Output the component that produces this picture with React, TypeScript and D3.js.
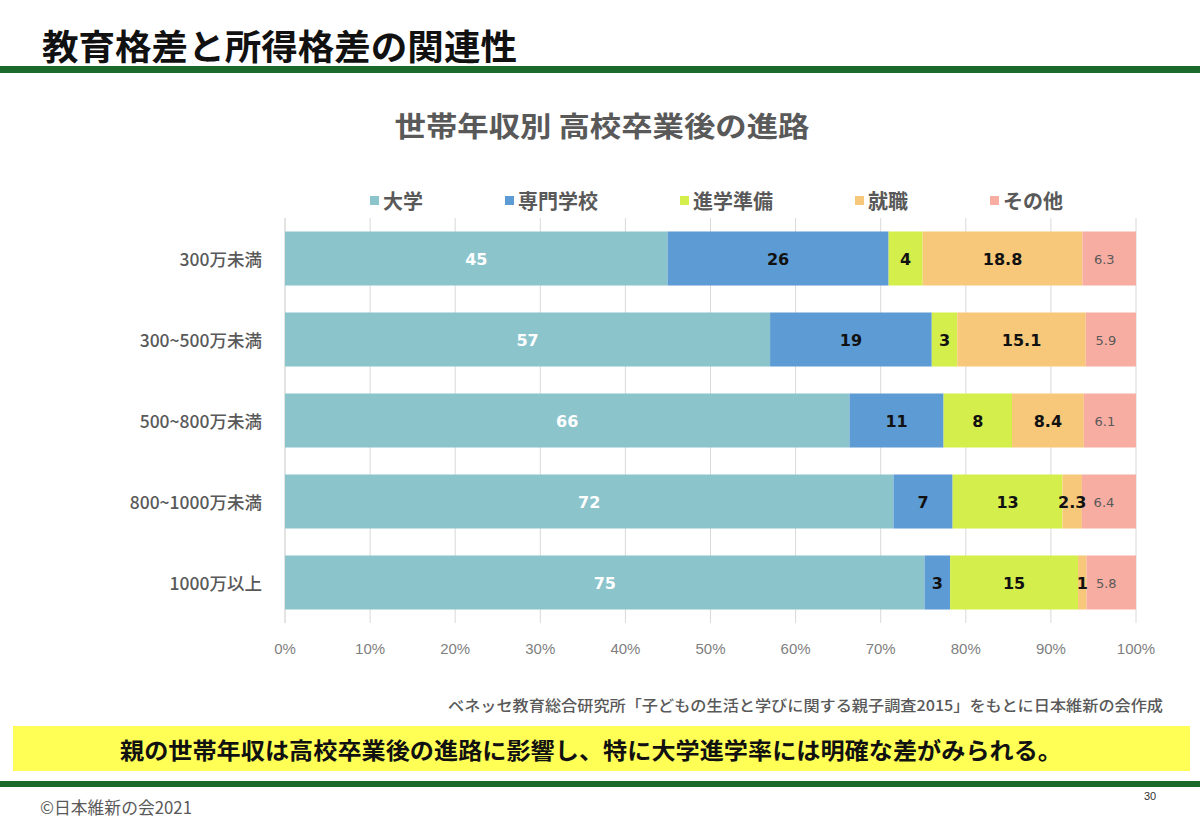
import React from "react";
import * as d3 from "d3";

const categories = ["300万未満", "300~500万未満", "500~800万未満", "800~1000万未満", "1000万以上"];
const seriesNames = ["大学", "専門学校", "進学準備", "就職", "その他"];
const daigaku = [45, 57, 66, 72, 75];
const senmon = [26, 19, 11, 7, 3];
const junbi = [4, 3, 8, 13, 15];
const shushoku = [18.8, 15.1, 8.4, 2.3, 1];
const sonota = [6.3, 5.9, 6.1, 6.4, 5.8];
const xTicks = [0, 0.1, 0.2, 0.3, 0.4, 0.5, 0.6, 0.7, 0.8, 0.9, 1];

const colors = ["#8cc4cc", "#5d9bd4", "#d4ef4c", "#f8c87a", "#f8ada2"];
const JP = "'Noto Sans CJK JP', 'Noto Sans', sans-serif";
const NUM = "'DejaVu Sans', Verdana, sans-serif";

export default function App() {
  const W = 1200, H = 831;
  const seriesValues = [daigaku, senmon, junbi, shushoku, sonota];
  const rows = categories.map((c, i) => {
    const r: any = { cat: c };
    seriesNames.forEach((s, j) => (r[s] = seriesValues[j][i]));
    return r;
  });
  const stack = d3.stack<any>().keys(seriesNames).offset(d3.stackOffsetExpand);
  const stacked = stack(rows);

  const x = d3.scaleLinear().domain([0, 1]).range([285, 1136]);
  const y = d3.scaleBand().domain(categories).range([218, 623]).paddingInner(0.333).paddingOuter(0.1665);

  const legendFont = 20;
  const legendItems: { name: string; x: number; color: string }[] = [];
  let lx = 370;
  seriesNames.forEach((s, i) => {
    legendItems.push({ name: s, x: lx, color: colors[i] });
    lx += 13 + s.length * legendFont + 82;
  });

  return (
    <svg width={W} height={H} style={{ display: "block", position: "absolute", left: 0, top: 0 }}>
      <rect x={0} y={0} width={W} height={H} fill="#ffffff" />
      <text x={42} y={44} fontFamily={JP} fontWeight={700} fontSize={35} fill="#111" dominantBaseline="central" textLength={475} lengthAdjust="spacingAndGlyphs">
        教育格差と所得格差の関連性
      </text>
      <rect x={0} y={66} width={W} height={7} fill="#1b6a2b" />

      <text x={602} y={125} textAnchor="middle" dominantBaseline="central" fontFamily={JP} fontWeight={700} fontSize={28} fill="#595959" textLength={415} lengthAdjust="spacingAndGlyphs">
        世帯年収別 高校卒業後の進路
      </text>

      {legendItems.map((l) => (
        <g key={l.name}>
          <rect x={l.x} y={196} width={9} height={9} fill={l.color} />
          <text x={l.x + 13} y={200} dominantBaseline="central" fontFamily={JP} fontWeight={700} fontSize={legendFont} fill="#595959">
            {l.name}
          </text>
        </g>
      ))}

      {xTicks.map((t) => (
        <line key={t} x1={x(t)} x2={x(t)} y1={218} y2={623} stroke={t === 0 ? "#c8c8c8" : "#d9d9d9"} strokeWidth={1} />
      ))}

      {stacked.map((layer, si) => (
        <g key={"r" + layer.key}>
          {layer.map((d: any, i: number) => (
            <rect key={i} x={x(d[0])} y={y(categories[i])!} width={x(d[1]) - x(d[0])} height={y.bandwidth()} fill={colors[si]} />
          ))}
        </g>
      ))}
      {stacked.map((layer, si) => (
        <g key={"t" + layer.key}>
          {layer.map((d: any, i: number) => {
            const x0 = x(d[0]);
            const x1 = x(d[1]);
            const yy = y(categories[i])!;
            const bh = y.bandwidth();
            const val = seriesValues[si][i];
            const isOther = si === 4;
            return (
              <text
                key={i}
                x={(x0 + x1) / 2 - (isOther ? 5 : 0)}
                y={yy + bh / 2 + 1}
                textAnchor="middle"
                dominantBaseline="central"
                fontFamily={NUM}
                fontWeight={isOther ? 400 : 700}
                fontSize={isOther ? 13 : 16}
                fill={si === 0 ? "#ffffff" : isOther ? "#595959" : "#111111"}
              >
                {val}
              </text>
            );
          })}
        </g>
      ))}

      {categories.map((c) => (
        <text key={c} x={262} y={y(c)! + y.bandwidth() / 2} textAnchor="end" dominantBaseline="central" fontFamily={JP} fontWeight={500} fontSize={17.5} fill="#595959">
          {c}
        </text>
      ))}

      {xTicks.map((t) => (
        <text key={t} x={x(t)} y={648} textAnchor="middle" dominantBaseline="central" fontFamily="'Liberation Sans', Arial, sans-serif" fontSize={15} fill="#7f7f7f">
          {d3.format(".0%")(t)}
        </text>
      ))}

      <text x={1163} y={704} textAnchor="end" dominantBaseline="central" fontFamily={JP} fontWeight={500} fontSize={15} fill="#595959" textLength={715} lengthAdjust="spacingAndGlyphs">
        ベネッセ教育総合研究所「子どもの生活と学びに関する親子調査2015」をもとに日本維新の会作成
      </text>

      <rect x={13} y={726} width={1177} height={45} fill="#ffff55" />
      <text x={591} y={749} textAnchor="middle" dominantBaseline="central" fontFamily={JP} fontWeight={700} fontSize={23} fill="#111" textLength={942} lengthAdjust="spacingAndGlyphs">
        親の世帯年収は高校卒業後の進路に影響し、特に大学進学率には明確な差がみられる。
      </text>
      <rect x={0} y={781} width={W} height={6} fill="#1b6a2b" />

      <text x={40} y={806} dominantBaseline="central" fontFamily={JP} fontSize={17} fill="#595959" textLength={152} lengthAdjust="spacingAndGlyphs">
        ©日本維新の会2021
      </text>
      <text x={1150} y={796} textAnchor="middle" dominantBaseline="central" fontFamily="'Liberation Sans', Arial, sans-serif" fontSize={11} fill="#333">
        30
      </text>
    </svg>
  );
}
